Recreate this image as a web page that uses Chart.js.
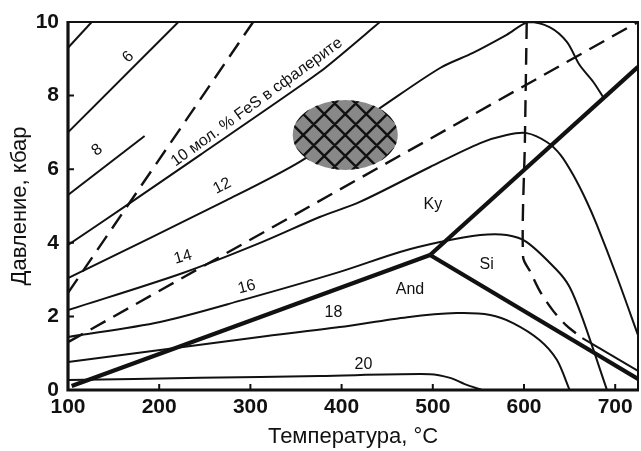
<!DOCTYPE html>
<html>
<head>
<meta charset="utf-8">
<script src="https://cdn.jsdelivr.net/npm/chart.js@4.4.1/dist/chart.umd.min.js"></script>
<style>
  html, body { margin: 0; padding: 0; background: #fff; }
</style>
</head>
<body>
<canvas id="diagram" width="641" height="451"></canvas>
<script>
// axis ticks
const tempTicks = [100, 200, 300, 400, 500, 600, 700];
const pressTicks = [0, 2, 4, 6, 8, 10];

// FeS isopleths in sphalerite, [T °C, P kbar]
const fes4 = [[100, 9.3], [126, 10]];
const fes6 = [[100, 7.0], [221, 10]];
const fes8 = [[100, 5.3], [184, 6.9]];
const fes10 = [[100, 3.94], [165, 5.03], [245, 6.39], [376, 8.64], [442, 10]];
const fes12 = [[100, 3.04], [274, 5.16], [354, 6.2], [442, 7.66], [508, 8.75], [544, 9.16],
  [581, 9.65], [605, 10], [628, 9.86], [647, 9.46], [661, 8.83], [676, 8.37], [687, 7.95]];
const fes14 = [[100, 2.17], [226, 3.18], [310, 3.99], [376, 4.7], [420, 5.11], [497, 6.06],
  [552, 6.71], [581, 6.93], [603, 6.98], [625, 6.74], [640, 6.39], [654, 5.84], [669, 5.11],
  [680, 4.48], [702, 3.07], [725, 1.49]];
const fes16 = [[100, 1.44], [201, 1.85], [292, 2.45], [398, 3.21], [464, 3.75], [508, 4.02],
  [552, 4.21], [581, 4.21], [603, 4.02], [636, 3.26], [650, 2.8], [664, 1.96], [691, 0]];
const fes18 = [[100, 0.76], [201, 1.09], [310, 1.44], [398, 1.71], [472, 1.98], [526, 2.09],
  [563, 2.04], [588, 1.82], [617, 1.36], [636, 0.82], [650, 0]];
const fes20 = [[100, 0.27], [245, 0.33], [376, 0.38], [497, 0.43], [519, 0.33], [535, 0.16], [554, 0]];

// Al2SiO5 phase boundaries
const andKy = [[104, 0.11], [497, 3.67]];
const kySi = [[497, 3.67], [725, 8.78]];
const andSi = [[497, 3.67], [725, 0.3]];

// dashed curves
const dashSteep = [[100, 2.64], [303, 10]];
const dashLong = [[100, 1.3], [725, 10]];
const dashBend = [[603, 10], [601, 6.8], [599, 3.61], [607, 3.21], [618, 2.66], [632, 2.15], [647, 1.74], [664, 1.41]];
const bendTail = [[664, 1.41], [725, 0.52]];

// hatched field: centre [T, P] and half-axes [dT, dP]
const hatchCenter = [404, 6.93];
const hatchRadii = [57.6, 0.95];

// text on the field
const labelText = ['6', '8', '10 мол. % FeS в сфалерите', '12', '14', '16', '18', '20', 'Ky', 'And', 'Si'];
const labelT = [166, 132, 307, 269, 226, 296, 391, 424, 500, 475, 559];
const labelP = [9.05, 6.52, 7.82, 5.54, 3.61, 2.8, 2.09, 0.68, 5.03, 2.72, 3.4];
const labelAngle = [-45, -37, -36, -27, -16, -14, 0, 0, 0, 0, 0];

const INK = '#111';
const FONT = "'Liberation Sans', Arial, sans-serif";

function pts(arr) {
  return arr.map(p => ({ x: p[0], y: p[1] }));
}

function thin(arr, tension) {
  return { data: pts(arr), borderColor: INK, borderWidth: 2, tension: tension || 0 };
}
function thick(arr) {
  return { data: pts(arr), borderColor: INK, borderWidth: 4.2, tension: 0 };
}
function dashed(arr, tension) {
  return { data: pts(arr), borderColor: INK, borderWidth: 2.4, borderDash: [17, 9], tension: tension || 0 };
}

const overlay = {
  id: 'overlay',
  afterDatasetsDraw(chart) {
    const { ctx, scales: { x, y } } = chart;

    // ellipse with cross hatching
    const cx = x.getPixelForValue(hatchCenter[0]);
    const cy = y.getPixelForValue(hatchCenter[1]);
    const rx = x.getPixelForValue(hatchCenter[0] + hatchRadii[0]) - cx;
    const ry = cy - y.getPixelForValue(hatchCenter[1] + hatchRadii[1]);
    ctx.save();
    ctx.beginPath();
    ctx.ellipse(cx, cy, rx, ry, 0, 0, Math.PI * 2);
    ctx.fillStyle = '#888';
    ctx.fill();
    ctx.clip();
    ctx.strokeStyle = INK;
    ctx.lineWidth = 2.4;
    ctx.beginPath();
    for (let k = -8; k <= 8; k++) {
      const ox = cx + k * 21;
      ctx.moveTo(ox - 90, cy - 90); ctx.lineTo(ox + 90, cy + 90);
      ctx.moveTo(ox - 90, cy + 90); ctx.lineTo(ox + 90, cy - 90);
    }
    ctx.stroke();
    ctx.restore();

    // labels
    ctx.save();
    ctx.fillStyle = INK;
    ctx.textAlign = 'center';
    ctx.textBaseline = 'middle';
    labelText.forEach((t, i) => {
      ctx.save();
      ctx.translate(x.getPixelForValue(labelT[i]), y.getPixelForValue(labelP[i]));
      ctx.rotate(labelAngle[i] * Math.PI / 180);
      ctx.font = '16px ' + FONT;
      ctx.fillText(t, 0, 0);
      ctx.restore();
    });
    ctx.restore();
  },
  afterDraw(chart) {
    const { ctx, chartArea: a, scales: { x, y } } = chart;
    ctx.save();
    ctx.strokeStyle = INK;
    // inner tick marks
    ctx.lineWidth = 2;
    ctx.beginPath();
    tempTicks.forEach(v => {
      const px = x.getPixelForValue(v);
      ctx.moveTo(px, a.bottom); ctx.lineTo(px, a.bottom - 6);
    });
    pressTicks.forEach(v => {
      const py = y.getPixelForValue(v);
      ctx.moveTo(a.left, py); ctx.lineTo(a.left + 6, py);
    });
    ctx.stroke();
    // frame
    ctx.lineWidth = 2;
    ctx.beginPath();
    ctx.moveTo(a.left, a.top); ctx.lineTo(a.right, a.top); ctx.lineTo(a.right, a.bottom);
    ctx.stroke();
    ctx.lineWidth = 3.2;
    ctx.beginPath();
    ctx.moveTo(a.left, a.top - 1); ctx.lineTo(a.left, a.bottom); ctx.lineTo(a.right + 1, a.bottom);
    ctx.stroke();
    ctx.restore();
  }
};

new Chart(document.getElementById('diagram'), {
  type: 'scatter',
  data: {
    datasets: [
      thin(fes4), thin(fes6), thin(fes8), thin(fes10, 0.2), thin(fes12, 0.3),
      thin(fes14, 0.3), thin(fes16, 0.3), thin(fes18, 0.3), thin(fes20, 0.3),
      thick(andKy), thick(kySi), thick(andSi),
      dashed(dashSteep), dashed(dashLong), dashed(dashBend, 0.3), thin(bendTail)
    ].map(d => Object.assign(d, { showLine: true, pointRadius: 0, pointHoverRadius: 0 }))
  },
  options: {
    responsive: false,
    animation: false,
    layout: { padding: { top: 22, right: 3, left: 0, bottom: 0 } },
    plugins: { legend: { display: false }, tooltip: { enabled: false } },
    scales: {
      x: {
        type: 'linear',
        min: 100,
        max: 725,
        afterBuildTicks: s => { s.ticks = tempTicks.map(v => ({ value: v })); },
        afterFit: s => { s.height = 61; },
        grid: { display: false, drawTicks: false },
        border: { display: false },
        ticks: { color: INK, padding: 5, maxRotation: 0, font: { family: FONT, size: 21, weight: 'bold' } },
        title: { display: true, text: 'Температура, °C', color: INK, padding: { top: 0, bottom: 1 },
          font: { family: FONT, size: 22 } }
      },
      y: {
        type: 'linear',
        min: 0,
        max: 10,
        afterBuildTicks: s => { s.ticks = pressTicks.map(v => ({ value: v })); },
        afterFit: s => { s.width = 68; },
        grid: { display: false, drawTicks: false },
        border: { display: false },
        ticks: { color: INK, padding: 9, font: { family: FONT, size: 21, weight: 'bold' } },
        title: { display: true, text: 'Давление, кбар', color: INK, padding: { top: 7, bottom: 0 },
          font: { family: FONT, size: 22 } }
      }
    }
  },
  plugins: [overlay]
});
</script>
</body>
</html>
